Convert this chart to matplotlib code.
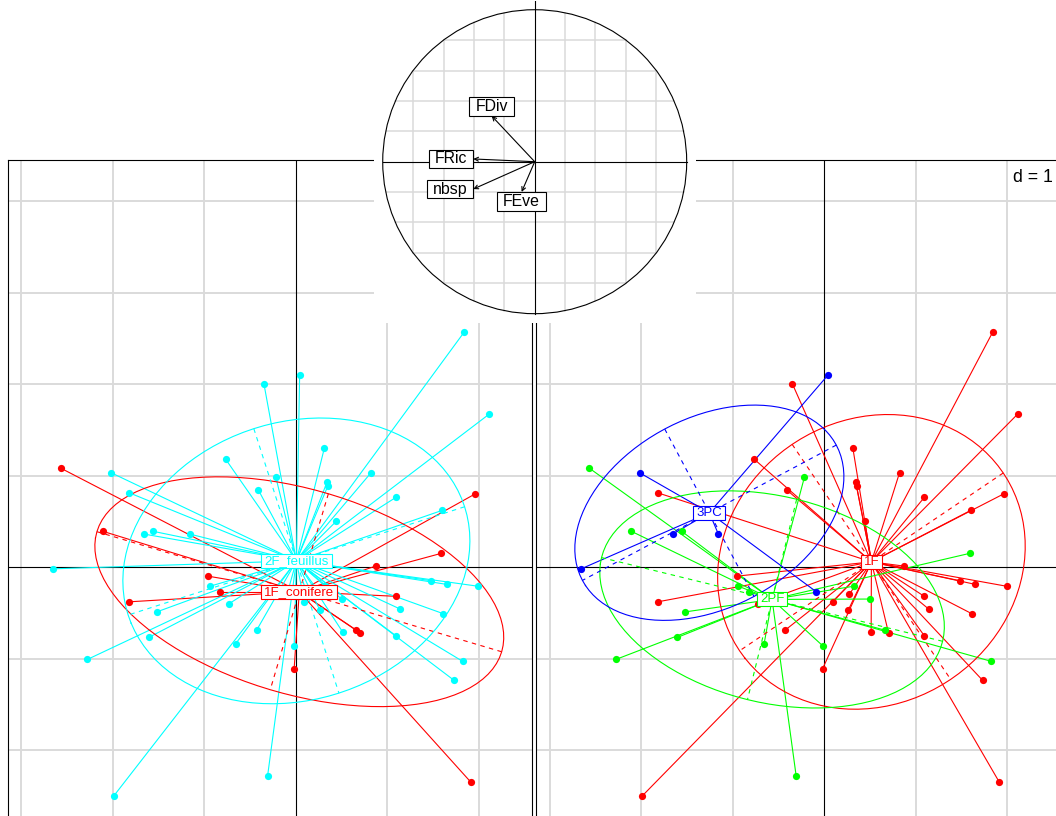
import numpy as np
import matplotlib
matplotlib.use("Agg")
import matplotlib.pyplot as plt
from matplotlib.patches import Rectangle, Circle

plt.rcParams["font.family"] = ["Liberation Sans", "DejaVu Sans"]

# Site scores on the first two principal axes
site_x = [-0.35, -2.57, -2.02, -0.77, -0.22, -0.41, -1.82, -2.11, -1.56, -1.66,
          -1.16, -2.66, 1.84, 0.04, 2.11, 0.31, 0.82, 0.34, 0.35, 1.96,
          1.09, 1.60, 0.44, 1.59, 0.87, -0.96, -0.94, -0.83, 1.48, 1.65,
          1.99, 1.09, -1.82, -1.52, -0.73, 0.09, 0.50, 1.14, 0.26, 1.61,
          -1.61, -0.43, 0.66, 0.70, 0.51, 1.09, -0.66, -0.02, -2.28, 1.82,
          -0.02, 1.73, -0.31, -1.99, 1.91, -0.09, 0.27, 0.32]
site_y = [2.00, 1.08, 1.03, 1.18, 0.98, 0.84, 0.81, 0.39, 0.39, 0.36,
          0.36, -0.02, 2.57, 2.10, 1.67, 1.30, 1.03, 0.93, 0.89, 0.80,
          0.76, 0.62, 0.50, 0.15, 0.01, -0.10, -0.21, -0.27, -0.15, -0.19,
          -0.21, -0.32, -0.38, -0.49, -0.40, -0.38, -0.35, -0.46, -0.47, -0.51,
          -0.77, -0.69, -0.69, -0.72, -0.71, -0.75, -0.84, -0.86, -1.01, -1.03,
          -1.11, -1.24, -2.28, -2.50, -2.35, -0.27, -0.30, -0.21]

# Stand composition of each site
CON, FEU = "1F_conifere", "2F_feuillus"
stand = [FEU, CON, FEU, FEU, FEU, FEU, FEU, CON, FEU, FEU,
         FEU, FEU, FEU, FEU, FEU, FEU, FEU, FEU, FEU, CON,
         FEU, FEU, FEU, CON, CON, CON, FEU, CON, FEU, FEU,
         FEU, CON, CON, FEU, FEU, FEU, FEU, FEU, FEU, FEU,
         FEU, FEU, CON, CON, FEU, FEU, FEU, FEU, FEU, FEU,
         CON, FEU, FEU, FEU, CON, FEU, FEU, FEU]
stand_levels = [CON, FEU]
stand_colors = ["#FF0000", "#00FFFF"]

# Forest type of each site
forest = ["1F", "2PF", "3PC", "1F", "2PF", "1F", "1F", "2PF", "2PF", "3PC",
          "3PC", "3PC", "1F", "3PC", "1F", "1F", "1F", "1F", "1F", "1F",
          "1F", "1F", "1F", "2PF", "1F", "1F", "2PF", "2PF", "1F", "1F",
          "1F", "1F", "1F", "2PF", "1F", "1F", "2PF", "1F", "1F", "1F",
          "2PF", "1F", "2PF", "1F", "1F", "1F", "2PF", "2PF", "2PF", "2PF",
          "1F", "1F", "2PF", "1F", "1F", "3PC", "1F", "2PF"]
forest_levels = ["1F", "2PF", "3PC"]
forest_colors = ["#FF0000", "#00FF00", "#0000FF"]

# Correlations of the diversity indices with the two axes
var_names = ["FDiv", "FRic", "nbsp", "FEve"]
var_x = [-0.283, -0.404, -0.404, -0.086]
var_y = [0.301, 0.018, -0.180, -0.199]

W, H = 1056, 816
fig = plt.figure(figsize=(W / 100, H / 100), dpi=100)
renderer = fig.canvas.get_renderer()
GRID = "#DADADA"
LW = 0.8


def add_axes_px(x0, y0, x1, y1):
    return fig.add_axes([x0 / W, 1 - y1 / H, (x1 - x0) / W, (y1 - y0) / H])


xlim = (-3.153, 2.574)
ylim = (-2.874, 4.445)

boxed = []  # (axes, text, edgecolor, padx, pady)


def setup_panel(ax):
    ax.set_xlim(xlim)
    ax.set_ylim(ylim)
    ax.set_xticks([])
    ax.set_yticks([])
    for s in ax.spines.values():
        s.set_linewidth(LW)
        s.set_color("black")
    for v in range(int(np.ceil(xlim[0])), int(np.floor(xlim[1])) + 1):
        if v != 0:
            ax.axvline(v, color=GRID, lw=1.4, zorder=0)
    for v in range(int(np.ceil(ylim[0])), int(np.floor(ylim[1])) + 1):
        if v != 0:
            ax.axhline(v, color=GRID, lw=1.4, zorder=0)
    ax.axvline(0, color="black", lw=LW, zorder=1)
    ax.axhline(0, color="black", lw=LW, zorder=1)


def class_panel(ax, groups, levels, colors):
    x = np.asarray(site_x)
    y = np.asarray(site_y)
    g = np.asarray(groups)
    for lev, col in zip(levels, colors):
        m = g == lev
        ax.plot(x[m], y[m], "o", ms=5.2, color=col, mec=col, mew=0, zorder=4)
    centres = []
    for lev, col in zip(levels, colors):
        m = g == lev
        mx, my = x[m].mean(), y[m].mean()
        centres.append((mx, my))
        for xi, yi in zip(x[m], y[m]):
            ax.plot([mx, xi], [my, yi], color=col, lw=LW, zorder=3)
    for (lev, col), (mx, my) in zip(zip(levels, colors), centres):
        m = g == lev
        cov = np.cov(np.vstack([x[m], y[m]]), bias=True)
        vals, vecs = np.linalg.eigh(cov)
        l1, l2 = np.sqrt(np.clip(vals[::-1], 0, None))
        v1, v2 = vecs[:, 1], vecs[:, 0]
        t = 2 * np.pi * np.arange(1, 101) / 100
        ex = mx + 1.5 * (l1 * np.cos(t) * v1[0] + l2 * np.sin(t) * v2[0])
        ey = my + 1.5 * (l1 * np.cos(t) * v1[1] + l2 * np.sin(t) * v2[1])
        ax.plot(np.append(ex, ex[0]), np.append(ey, ey[0]), color=col, lw=LW, zorder=3)
        for l, v in ((l1, v1), (l2, v2)):
            ax.plot([mx - 1.5 * l * v[0], mx + 1.5 * l * v[0]],
                    [my - 1.5 * l * v[1], my + 1.5 * l * v[1]],
                    color=col, lw=LW, ls=(0, (4, 4)), zorder=3)
    for (lev, col), (mx, my) in zip(zip(levels, colors), centres):
        t = ax.text(mx, my, lev, ha="center", va="center", color=col,
                    fontsize=9.5, zorder=7)
        boxed.append((ax, t, col, 3.0, 1.0))


axL = add_axes_px(7.5, 160.3, 531.5, 830)
setup_panel(axL)
class_panel(axL, stand, stand_levels, stand_colors)

axR = add_axes_px(536, 160.3, 1060, 830)
setup_panel(axR)
class_panel(axR, forest, forest_levels, forest_colors)
axR.annotate("d = 1", xy=(1, 1), xycoords="axes fraction", xytext=(-7.2, -17),
             textcoords="offset pixels", ha="right", va="center", fontsize=12.8,
             zorder=8)

# Correlation circle
R = 1.06
axC = add_axes_px(534.7 - 161.1, 161.7 - 161.1, 534.7 + 161.1, 161.7 + 161.1)
axC.set_zorder(10)
axC.set_facecolor("white")
axC.set_xlim(-R, R)
axC.set_ylim(-R, R)
axC.set_xticks([])
axC.set_yticks([])
for s in axC.spines.values():
    s.set_visible(False)
# grid chords restricted to the unit circle
for v in np.linspace(-0.8, 0.8, 9):
    if abs(v) < 1e-9:
        continue
    half = np.sqrt(1 - v ** 2)
    axC.plot([v, v], [-half, half], color=GRID, lw=1.1, zorder=0)
    axC.plot([-half, half], [v, v], color=GRID, lw=1.1, zorder=0)
axC.add_patch(Circle((0, 0), 1, fill=False, ec="black", lw=LW, zorder=2))
axC.plot([-1, 1], [0, 0], color="black", lw=LW, zorder=2)
axC.plot([0, 0], [-1, R], color="black", lw=LW, zorder=2)
for name, vx, vy in zip(var_names, var_x, var_y):
    axC.annotate("", xy=(vx, vy), xytext=(0, 0),
                 arrowprops=dict(arrowstyle="->", lw=LW, color="black",
                                 shrinkA=0, shrinkB=0, mutation_scale=7),
                 zorder=3)
    padx, pady = 6.0, 1.8
    if abs(vx) > abs(vy):
        ha = "right" if vx < 0 else "left"
        off = (-padx if vx < 0 else padx, 0)
        va = "center"
    else:
        ha = "center"
        va = "bottom" if vy > 0 else "top"
        off = (0, pady if vy > 0 else -pady)
    t = axC.annotate(name, xy=(vx, vy), xytext=off, textcoords="offset pixels",
                     ha=ha, va=va, fontsize=11.4, zorder=7)
    boxed.append((axC, t, "black", padx, pady))

# Framed labels
for ax, t, ec, padx, pady in boxed:
    bb = t.get_window_extent(renderer)
    inv = ax.transData.inverted()
    (x0, y0), (x1, y1) = inv.transform([[bb.x0 - padx, bb.y0 - pady],
                                        [bb.x1 + padx, bb.y1 + pady]])
    ax.add_patch(Rectangle((x0, y0), x1 - x0, y1 - y0, fc="white", ec=ec,
                           lw=LW, zorder=6.9))

fig.savefig("out.png", dpi=100)
